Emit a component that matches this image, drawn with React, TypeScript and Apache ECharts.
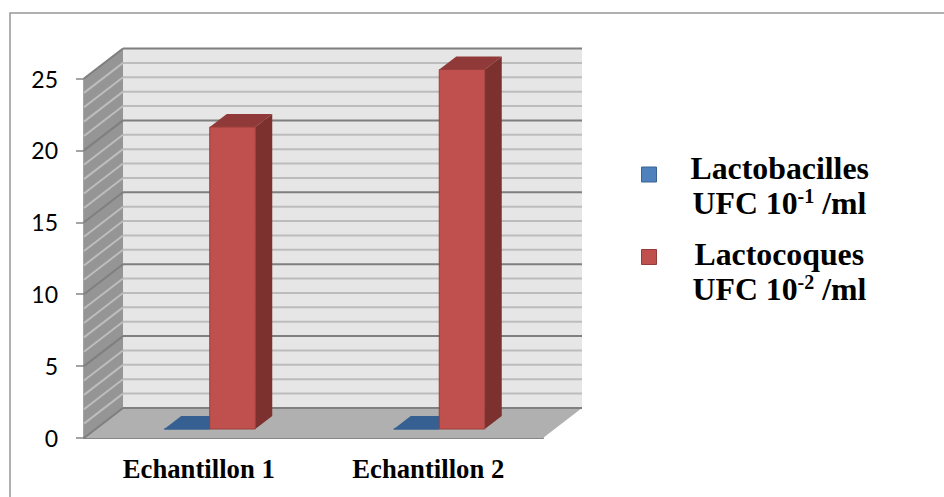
import React, { useEffect, useRef } from "react";
import * as echarts from "echarts";

const categories = ["Echantillon 1", "Echantillon 2"];
const lactobacilles = [0, 0];
const lactocoques = [21, 25];
const gridValues = Array.from({ length: 26 }, (_, i) => i);
const valueTicks = [0, 5, 10, 15, 20, 25];

// Projection of the chart's 3D box onto the page
const WALL_DX = 39;
const WALL_DY = -30;
const BAR_DX = 17;
const BAR_DY = -13;
const GAP_DX = 11;
const GAP_DY = -9;
const BAR_WIDTH = 45.5;

function renderBox(params: any, api: any) {
  const v = api.value(0);
  const [lx, y] = api.coord([0, v]);
  const catW = api.size([1, 0])[0];
  const left = lx - catW / 2;
  const right = left + catW * 2;
  const major = v % 5 === 0;
  const children: any[] = [];
  if (params.dataIndex === 0) {
    const [, top] = api.coord([0, 25]);
    children.push(
      {
        type: "polygon",
        shape: { points: [[left + WALL_DX, top + WALL_DY], [right + WALL_DX, top + WALL_DY], [right + WALL_DX, y + WALL_DY], [left + WALL_DX, y + WALL_DY]] },
        style: { fill: "#e6e6e6" },
        z2: 1,
      },
      {
        type: "polygon",
        shape: { points: [[left, top], [left + WALL_DX, top + WALL_DY], [left + WALL_DX, y + WALL_DY], [left, y]] },
        style: { fill: "#959595" },
        z2: 1,
      },
      {
        type: "polygon",
        shape: { points: [[left, y], [left + WALL_DX, y + WALL_DY], [right + WALL_DX, y + WALL_DY], [right, y]] },
        style: { fill: "#b0b0b0" },
        z2: 1,
      }
    );
  }
  children.push(
    {
      type: "line",
      shape: { x1: left + WALL_DX, y1: y + WALL_DY, x2: right + WALL_DX, y2: y + WALL_DY },
      style: { stroke: major ? "#7f7f7f" : "#bcbcbc", lineWidth: 2 },
      z2: 2,
    },
    {
      type: "line",
      shape: { x1: left, y1: y, x2: left + WALL_DX, y2: y + WALL_DY },
      style: { stroke: major ? "#7f7f7f" : "#bdbdbd", lineWidth: 2 },
      z2: 2,
    }
  );
  return { type: "group", children };
}

function renderBar(seriesIndex: number, fills: string[]) {
  return (_params: any, api: any) => {
    const [cx, y0] = api.coord([api.value(0), 0]);
    const [, y1] = api.coord([api.value(0), api.value(1)]);
    const x0 = cx + GAP_DX + (seriesIndex === 0 ? -BAR_WIDTH : 0);
    const x1 = x0 + BAR_WIDTH;
    const b = y0 + GAP_DY;
    const t = y1 + GAP_DY;
    return {
      type: "group",
      children: [
        {
          type: "polygon",
          shape: { points: [[x0, t], [x1, t], [x1 + BAR_DX, t + BAR_DY], [x0 + BAR_DX, t + BAR_DY]] },
          style: { fill: fills[1] },
          z2: 11 + seriesIndex,
        },
        {
          type: "polygon",
          shape: { points: [[x1, t], [x1 + BAR_DX, t + BAR_DY], [x1 + BAR_DX, b + BAR_DY], [x1, b]] },
          style: { fill: fills[2] },
          z2: 11 + seriesIndex,
        },
        {
          type: "rect",
          shape: { x: x0, y: t, width: BAR_WIDTH, height: b - t },
          style: { fill: fills[0], stroke: fills[3], lineWidth: 1 },
          z2: 11 + seriesIndex,
        },
      ],
    };
  };
}

const legendSerif = { fontFamily: "Liberation Serif", fontWeight: "bold", color: "#000" };

export default function App() {
  const ref = useRef<HTMLDivElement>(null);
  useEffect(() => {
    const chart = echarts.init(ref.current!, undefined, { renderer: "svg" });
    chart.setOption({
      animation: false,
      backgroundColor: "#fff",
      grid: { left: 84, top: 78.5, width: 459, height: 359.5 },
      graphic: [
        {
          type: "polyline",
          silent: true,
          shape: { points: [[10, 497], [10, 13], [944, 13]] },
          style: { fill: "none", stroke: "#979797", lineWidth: 1.5 },
        },
      ],
      legend: {
        orient: "vertical",
        left: 636,
        top: 129.5,
        itemGap: -2,
        itemWidth: 15,
        itemHeight: 15,
        icon: "rect",
        selectedMode: false,
        data: [
          { name: "Lactobacilles", itemStyle: { color: "#4f81bd", borderColor: "#3a6391", borderWidth: 1 } },
          { name: "Lactocoques", itemStyle: { color: "#c0504d", borderColor: "#943c3a", borderWidth: 1 } },
        ],
        formatter: (name: string) =>
          name === "Lactobacilles"
            ? "{g1| }\n{t1|Lactobacilles}\n{u|UFC 10}{s|-1}{a| /ml}"
            : "{g2| }\n{t2|Lactocoques}\n{u|UFC 10}{s|-2}{a| /ml}",
        textStyle: {
          rich: {
            g1: { fontSize: 10, lineHeight: 22 },
            g2: { fontSize: 10, lineHeight: 30 },
            t1: { ...legendSerif, fontSize: 31.8, lineHeight: 35, padding: [0, 0, 0, 29] },
            t2: { ...legendSerif, fontSize: 31.8, lineHeight: 35, padding: [0, 0, 0, 33] },
            u: { ...legendSerif, fontSize: 31.8, lineHeight: 35, padding: [0, 0, 0, 31] },
            a: { ...legendSerif, fontSize: 31.8, lineHeight: 35 },
            s: { ...legendSerif, fontSize: 20, verticalAlign: "top", lineHeight: 35 },
          },
        },
      },
      xAxis: {
        type: "category",
        data: categories,
        axisLine: { lineStyle: { color: "#868686", width: 2 } },
        axisTick: { show: false },
        axisLabel: { fontFamily: "Liberation Serif", fontWeight: "bold", fontSize: 26.7, color: "#000", margin: 17 },
      },
      yAxis: {
        type: "value",
        min: 0,
        max: 25,
        interval: 5,
        splitLine: { show: false },
        axisLine: { show: true, lineStyle: { color: "#868686", width: 1.5 } },
        axisTick: { show: true, length: 8, lineStyle: { color: "#868686", width: 1.5 } },
        axisLabel: {
          fontFamily: "Lato",
          fontSize: 23,
          color: "#000",
          margin: 26,
          padding: [5, 0, 0, 0],
          formatter: (v: number) => (valueTicks.includes(v) ? String(v) : ""),
        },
      },
      series: [
        {
          name: "box",
          type: "custom",
          clip: false,
          silent: true,
          z: 1,
          data: gridValues.map((v) => [v]),
          encode: { y: 0 },
          renderItem: renderBox,
        },
        {
          name: "Lactobacilles",
          type: "custom",
          clip: false,
          z: 3,
          data: categories.map((_, i) => [i, lactobacilles[i]]),
          encode: { x: 0, y: 1 },
          renderItem: renderBar(0, ["#4f81bd", "#376092", "#2f527c", "#376092"]),
        },
        {
          name: "Lactocoques",
          type: "custom",
          clip: false,
          z: 4,
          data: categories.map((_, i) => [i, lactocoques[i]]),
          encode: { x: 0, y: 1 },
          renderItem: renderBar(1, ["#c0504d", "#8f3a38", "#7d312f", "#9a3e3b"]),
        },
      ],
    });
    return () => chart.dispose();
  }, []);
  return <div ref={ref} style={{ width: 944, height: 497, position: "absolute", left: 0, top: 0 }} />;
}
